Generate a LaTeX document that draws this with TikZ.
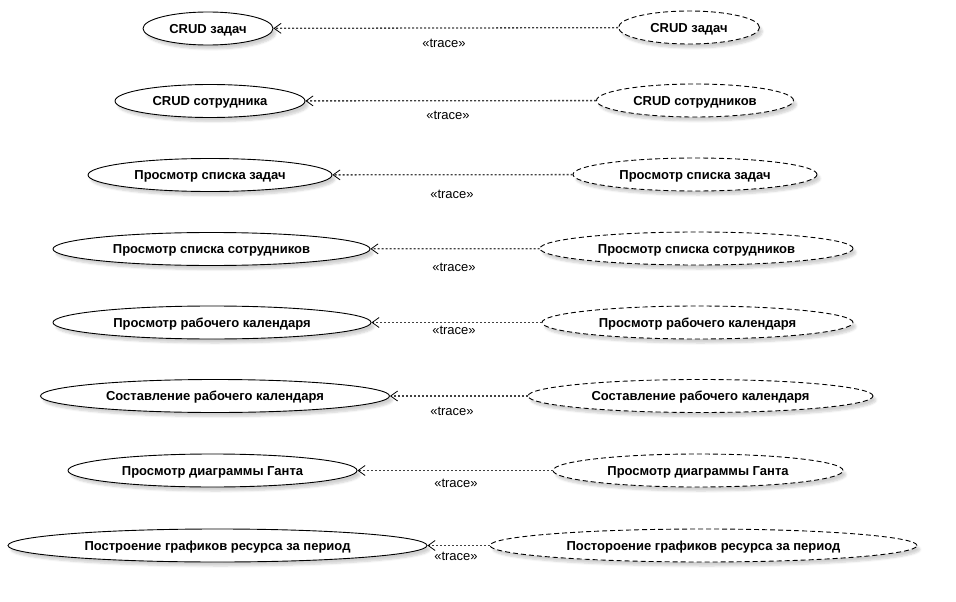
\documentclass[tikz,border=0pt]{standalone}
\usepackage{fontspec}
\setmainfont{Liberation Sans}
\usetikzlibrary{shapes.geometric,arrows.meta,shadows.blur}
\tikzset{
  uc/.style={ellipse, draw=black, fill=white, line width=0.9pt, inner sep=0pt,
    minimum height=33pt, text height=9.3pt, text depth=0pt,
    font=\bfseries\fontsize{13}{15}\selectfont,
    blur shadow={shadow xshift=3pt, shadow yshift=-4pt, shadow blur steps=6, shadow opacity=18}},
  ucd/.style={uc, dash pattern=on 5pt off 3pt},
  trace/.style={draw=black!75, line width=1.3pt, dash pattern=on 2pt off 2pt,
    -{Straight Barb[length=7pt, width=10pt, line width=0.8pt, black]}},
  lbl/.style={font=\fontsize{13}{15}\selectfont, inner sep=0pt}
}
\begin{document}
\begin{tikzpicture}[x=1pt, y=-1pt]
\useasboundingbox (0,0) rectangle (956,602);
% row 1
\node[uc,  minimum width=130pt] (l1) at (208,28.5) {CRUD задач};
\node[ucd, minimum width=141pt] (r1) at (689,27.5) {CRUD задач};
\draw[trace] (r1) -- (l1);
\node[lbl] (t1) at (444,43) {«trace»};
% row 2
\node[uc,  minimum width=190pt] (l2) at (210,101) {CRUD сотрудника};
\node[ucd, minimum width=197pt] (r2) at (695,100.5) {CRUD сотрудников};
\draw[trace] (r2) -- (l2);
\node[lbl] (t2) at (448,115) {«trace»};
% row 3
\node[uc,  minimum width=244pt] (l3) at (210,175) {Просмотр списка задач};
\node[ucd, minimum width=244pt] (r3) at (695,174.5) {Просмотр списка задач};
\draw[trace] (r3) -- (l3);
\node[lbl] (t3) at (452,194) {«trace»};
% row 4
\node[uc,  minimum width=317pt] (l4) at (211.5,249) {Просмотр списка сотрудников};
\node[ucd, minimum width=313pt] (r4) at (696.5,248.5) {Просмотр списка сотрудников};
\draw[trace] (r4) -- (l4);
\node[lbl] (t4) at (454,267) {«trace»};
% row 5
\node[uc,  minimum width=318pt] (l5) at (212,322.5) {Просмотр рабочего календаря};
\node[ucd, minimum width=311pt] (r5) at (697.5,322.5) {Просмотр рабочего календаря};
\draw[trace] (r5) -- (l5);
\node[lbl] (t5) at (454,330) {«trace»};
% row 6
\node[uc,  minimum width=349pt] (l6) at (215,396) {Составление рабочего календаря};
\node[ucd, minimum width=345pt] (r6) at (700.5,396) {Составление рабочего календаря};
\draw[trace] (r6) -- (l6);
\node[lbl] (t6) at (452,411) {«trace»};
% row 7
\node[uc,  minimum width=289pt] (l7) at (212.5,470.5) {Просмотр диаграммы Ганта};
\node[ucd, minimum width=290pt] (r7) at (698,470.5) {Просмотр диаграммы Ганта};
\draw[trace] (r7) -- (l7);
\node[lbl] (t7) at (456,483) {«trace»};
% row 8
\node[uc,  minimum width=419pt] (l8) at (217.5,545.5) {Построение графиков ресурса за период};
\node[ucd, minimum width=427pt] (r8) at (703.5,545.5) {Постороение графиков ресурса за период};
\draw[trace] (r8) -- (l8);
\node[lbl] (t8) at (456,556) {«trace»};
\end{tikzpicture}
\end{document}
